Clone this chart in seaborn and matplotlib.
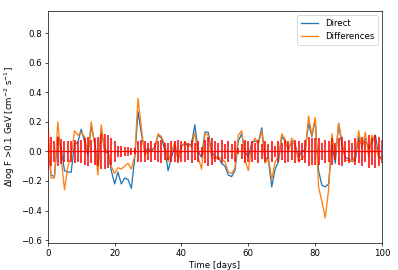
import numpy as np
import pandas as pd
import seaborn as sns
import matplotlib
matplotlib.use('Agg')
import matplotlib.pyplot as plt

days = np.arange(101)

direct = [0.05, -0.16, -0.17, 0.10, 0.02, -0.13, -0.14, -0.14, 0.05, 0.06,
          0.15, 0.07, -0.03, 0.17, 0.07, -0.10, 0.15, 0.00, -0.01, -0.13,
          -0.22, -0.14, -0.22, -0.18, -0.19, -0.25, -0.05, 0.27, 0.12, 0.00,
          0.02, 0.00, 0.03, 0.11, 0.09, 0.01, -0.13, -0.04, 0.04, -0.05,
          0.04, 0.05, 0.04, 0.05, 0.18, 0.00, -0.04, 0.13, 0.13, 0.00,
          -0.04, -0.04, -0.08, -0.10, -0.16, -0.17, -0.13, 0.07, 0.12, 0.00,
          -0.04, 0.06, 0.07, 0.06, 0.16, -0.04, -0.06, -0.24, -0.12, -0.07,
          0.10, 0.07, 0.02, 0.07, 0.05, -0.04, 0.00, 0.01, 0.19, 0.10,
          0.21, -0.13, -0.23, -0.24, -0.22, 0.05, -0.08, 0.19, 0.04, -0.04,
          -0.05, -0.07, -0.06, 0.10, 0.04, 0.09, 0.02, 0.07, 0.11, -0.03,
          -0.05]

differences = [0.21, -0.18, -0.18, 0.20, -0.04, -0.26, -0.10, -0.04, 0.14, 0.11,
               0.13, 0.10, -0.02, 0.20, 0.05, -0.16, 0.18, 0.02, 0.00, -0.10,
               -0.15, -0.11, -0.12, -0.10, -0.08, -0.12, -0.03, 0.36, 0.16, -0.02,
               0.00, 0.02, 0.02, 0.12, 0.10, 0.05, -0.07, 0.00, 0.06, -0.06,
               0.03, 0.06, 0.05, 0.03, 0.13, -0.04, -0.12, 0.12, 0.11, -0.04,
               -0.05, -0.04, -0.05, -0.07, -0.14, -0.15, -0.11, 0.11, 0.14, -0.06,
               -0.13, 0.05, 0.09, 0.05, 0.14, -0.08, -0.04, -0.19, -0.07, -0.04,
               0.12, 0.08, 0.00, 0.09, 0.04, -0.07, -0.05, -0.02, 0.24, 0.11,
               0.23, -0.24, -0.34, -0.45, -0.26, 0.12, -0.04, 0.19, 0.07, -0.06,
               -0.06, -0.07, -0.03, 0.14, 0.02, 0.13, -0.04, 0.11, 0.05, -0.05,
               -0.05]

errors = [0.13, 0.10, 0.07, 0.10, 0.085, 0.07, 0.07, 0.07, 0.08, 0.07,
          0.08, 0.09, 0.10, 0.08, 0.09, 0.10, 0.12, 0.12, 0.11, 0.09,
          0.07, 0.04, 0.035, 0.03, 0.03, 0.025, 0.02, 0.07, 0.075, 0.07,
          0.06, 0.07, 0.06, 0.07, 0.08, 0.06, 0.06, 0.07, 0.07, 0.08,
          0.07, 0.07, 0.06, 0.08, 0.06, 0.07, 0.03, 0.08, 0.10, 0.09,
          0.07, 0.06, 0.08, 0.05, 0.07, 0.05, 0.07, 0.02, 0.05, 0.08,
          0.07, 0.07, 0.06, 0.08, 0.05, 0.07, 0.05, 0.07, 0.04, 0.07,
          0.06, 0.08, 0.07, 0.06, 0.08, 0.07, 0.06, 0.08, 0.10, 0.09,
          0.09, 0.09, 0.06, 0.08, 0.07, 0.09, 0.06, 0.09, 0.10, 0.07,
          0.08, 0.06, 0.09, 0.08, 0.10, 0.07, 0.11, 0.09, 0.11, 0.10,
          0.08]

df = pd.DataFrame({'day': days, 'Direct': direct, 'Differences': differences})

dpi = 62
fig = plt.figure(figsize=(398 / dpi, 270 / dpi), dpi=dpi)
ax = fig.add_axes([0.12, 0.1, 0.84, 0.859])

sns.lineplot(data=df, x='day', y='Direct', color='C0', label='Direct', ax=ax)
sns.lineplot(data=df, x='day', y='Differences', color='C1', label='Differences', ax=ax)
ax.errorbar(days, np.zeros(len(days)), yerr=errors, color='red', ecolor='red',
            elinewidth=1.8, lw=1.5, zorder=3)

ax.set_xlim(0, 100)
ax.set_ylim(-0.62, 0.95)
ax.set_yticks(np.arange(-0.6, 0.81, 0.2))
ax.set_xlabel('Time [days]')
ax.set_ylabel(r'$\Delta$log F >0.1 GeV [cm$^{-2}$ s$^{-1}$]')
ax.legend(loc='upper right')

plt.savefig('out.png', dpi=dpi)
